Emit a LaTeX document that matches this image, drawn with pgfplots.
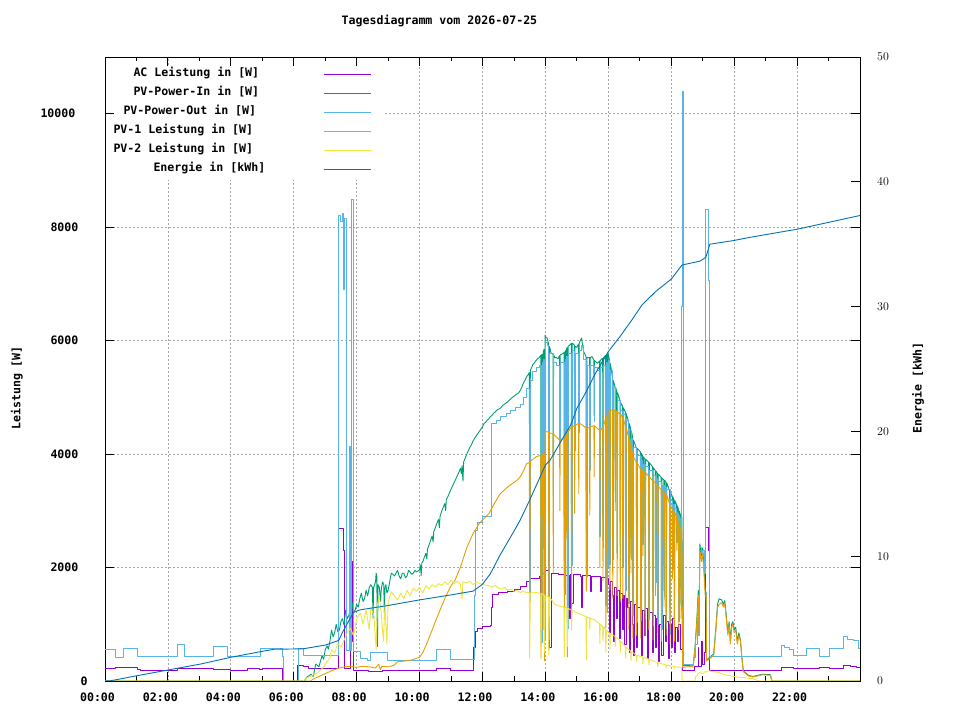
\documentclass[border=0pt]{standalone}
\usepackage{pgfplots}
\pgfplotsset{compat=1.18}
\usepackage{fontspec}
\newfontfamily\gpf{DejaVu Sans Mono}
\newcommand{\gp}{\gpf\bfseries\fontsize{11.6bp}{13bp}\selectfont}
\definecolor{cAC}{HTML}{9400D3}
\definecolor{cIn}{HTML}{009E73}
\definecolor{cOut}{HTML}{56B4E9}
\definecolor{cPa}{HTML}{E69F00}
\definecolor{cPb}{HTML}{F0E442}
\definecolor{cE}{HTML}{0072B2}
\definecolor{cGrid}{RGB}{165,165,168}
\pgfplotsset{
  gpbase/.style={
    at={(105bp,39bp)}, anchor=south west,
    scale only axis, width=755bp, height=624bp,
    xmin=0, xmax=24,
    tick align=inside,
    major tick length=9bp, minor tick length=4.5bp,
    tick style={black, line width=0.9bp},
    axis line style={line width=0.9bp},
    every axis plot/.append style={line width=0.9bp, line join=bevel},
  }
}
\begin{document}
\begin{tikzpicture}
\useasboundingbox (0bp,0bp) rectangle (960bp,720bp);
\begin{axis}[gpbase,
  ymin=0, ymax=11000,
  scaled y ticks=false,
  xtick={0,2,...,22},
  xticklabels={00:00,02:00,04:00,06:00,08:00,10:00,12:00,14:00,16:00,18:00,20:00,22:00},
  minor xtick={1,3,...,23},
  ytick={0,2000,4000,6000,8000,10000},
  yticklabels={\makebox[10bp][l]{0},\makebox[40bp][l]{2000},\makebox[40bp][l]{4000},\makebox[40bp][l]{6000},\makebox[40bp][l]{8000},\makebox[50bp][l]{10000}},
  xtick pos=both, ytick pos=both,
  xticklabel pos=bottom, yticklabel pos=left,
  xticklabel style={font=\gp, anchor=center, inner sep=0pt, yshift=-16.7bp, xshift=-7.5bp},
  yticklabel style={font=\gp, anchor=east, inner sep=0pt, xshift=-14.3bp},
  grid=major,
  major grid style={cGrid, line width=0.8bp, dash pattern=on 2bp off 2bp},
  title={Tagesdiagramm vom 2026-07-25},
  title style={at={(0.443,1.048)}, anchor=center, font=\gp, inner sep=0pt},
  ylabel={Leistung [W]},
  ylabel style={at={(-0.1166,0.4696)}, anchor=center, font=\gp, inner sep=0pt},
  legend style={at={(0.011,0.9856)}, anchor=north west, draw=none, fill=white,
    inner sep=0pt, row sep=0pt, column sep=0pt, font=\gp,
    nodes={inner sep=0pt, text height=10.25bp, text depth=8.75bp}},
  legend cell align=right,
  legend plot pos=right,
  legend image code/.code={\draw[draw=none] (0bp,0bp) -- (69.7bp,0bp); \draw[#1, line width=1bp] (10.7bp,1.2bp) -- (57.7bp,1.2bp);},
]
% AC Leistung
\addplot[const plot, cAC] table[x=t,y=w] {
t w
0.00 223
0.34 235
1.03 206
1.13 188
2.30 223
3.46 206
3.99 188
4.52 223
4.90 206
5.00 223
5.63 0
6.13 282
6.30 253
6.48 223
7.43 2690
7.59 2300
7.62 220
7.80 2300
7.82 800
7.84 2100
7.86 700
7.88 1900
7.90 194
8.38 170
8.81 194
10.55 223
10.97 188
11.72 600
11.77 870
11.85 930
12.00 960
12.25 980
12.30 1300
12.33 1520
12.50 1560
12.80 1580
13.00 1620
13.20 1660
13.40 1760
13.52 1810
13.80 1850
13.85 1500
13.88 1900
14.00 1940
14.12 600
14.20 1900
14.40 1870
14.60 1860
14.76 1100
14.80 1880
14.84 1360
14.88 1870
15.10 1850
15.15 1300
15.18 1860
15.42 1580
15.46 1850
15.70 1840
15.74 1580
15.78 1830
15.95 1800
16.00 1700
16.04 800
16.08 1750
16.12 1500
16.16 700
16.20 1650
16.26 1100
16.30 1600
16.34 750
16.38 1550
16.44 900
16.48 1500
16.52 650
16.56 1450
16.62 1300
16.66 500
16.70 1400
16.76 1000
16.80 450
16.84 1350
16.90 600
16.94 1300
17.04 450
17.08 1250
17.14 800
17.18 1280
17.24 400
17.28 1200
17.40 500
17.44 1150
17.50 600
17.54 1100
17.60 350
17.64 1000
17.70 450
17.74 1150
17.80 700
17.84 1050
17.90 400
17.94 1000
18.00 600
18.04 1100
18.10 500
18.14 950
18.20 700
18.24 1000
18.30 550
18.35 180
18.75 250
18.85 600
18.88 250
18.95 700
19.00 300
19.05 500
19.10 2700
19.18 2300
19.21 194
21.51 240
21.88 215
22.31 225
22.72 240
23.04 225
23.46 280
23.70 265
23.89 240
24.00 240
};
\addlegendentry{\makebox[180bp][l]{AC Leistung in [W]}}
% PV-Power-In
\addplot[sharp plot, cIn] table[x=t,y=w] {
t w
0.00 0
6.35 0
6.40 60
6.55 120
6.62 80
6.70 300
6.80 250
6.90 450
6.95 380
7.00 550
7.06 620
7.10 560
7.15 700
7.20 900
7.25 780
7.30 850
7.35 1000
7.40 870
7.45 900
7.50 1050
7.55 1100
7.60 980
7.65 1250
7.70 1100
7.75 1150
7.80 1300
7.85 1400
7.90 1200
7.95 1250
8.00 1350
8.05 1300
8.10 1450
8.15 1550
8.20 1400
8.25 1450
8.30 1600
8.35 1500
8.40 1650
8.45 1700
8.50 1650
8.52 1100
8.54 1650
8.60 1750
8.62 1900
8.64 1850
8.66 600
8.68 1700
8.72 1650
8.76 1400
8.78 1600
8.82 1750
8.86 1700
8.88 1200
8.90 1650
8.93 1700
8.96 1550
9.00 1600
9.05 1750
9.10 1900
9.15 1880
9.20 1850
9.25 1900
9.30 1950
9.35 1850
9.40 1800
9.45 1900
9.50 1900
9.55 1820
9.60 1850
9.65 1950
9.70 1920
9.75 1880
9.80 1900
9.85 1950
9.90 1920
9.95 1940
10.00 1960
10.03 2050
10.05 1850
10.07 2080
10.10 2100
10.15 2180
10.20 2250
10.23 2150
10.25 2320
10.30 2400
10.35 2480
10.40 2560
10.43 2450
10.45 2630
10.50 2700
10.55 2780
10.60 2850
10.63 2700
10.65 2900
10.70 2990
10.75 3060
10.80 3130
10.83 3000
10.85 3200
10.90 3250
10.95 3320
11.00 3380
11.05 3440
11.10 3500
11.15 3560
11.20 3620
11.25 3680
11.30 3750
11.33 3650
11.35 3800
11.38 3520
11.40 3860
11.45 3930
11.50 4000
11.55 4060
11.60 4120
11.65 4170
11.70 4230
11.75 4280
11.80 4320
11.85 4360
11.90 4400
11.95 4440
12.00 4480
12.05 4540
12.10 4560
12.15 4600
12.20 4620
12.25 4660
12.30 4680
12.35 4720
12.40 4740
12.45 4770
12.50 4790
12.55 4800
12.60 4830
12.65 4860
12.70 4880
12.75 4900
12.80 4920
12.85 4950
12.90 4970
12.95 5000
13.00 5020
13.05 5040
13.10 5060
13.15 5080
13.20 5120
13.25 5180
13.30 5250
13.35 5300
13.40 5360
13.45 5400
13.49 5440
13.50 1500
13.52 5480
13.56 5520
13.60 5580
13.65 5610
13.70 5650
13.75 5680
13.80 5700
13.85 5740
13.86 780
13.88 5750
13.91 5760
13.92 2440
13.93 5800
13.96 5850
13.97 850
13.99 6100
14.02 6050
14.05 6050
14.10 5950
14.11 1000
14.13 5900
14.18 5780
14.24 5760
14.25 3280
14.26 5750
14.30 5700
14.35 5700
14.40 5680
14.45 5740
14.46 4320
14.47 5750
14.52 5760
14.59 5790
14.60 1620
14.62 5800
14.645 5830
14.655 3790
14.665 5850
14.69 5880
14.70 1020
14.72 5900
14.77 5920
14.82 5950
14.83 2130
14.85 5960
14.92 5920
14.93 4170
14.94 5900
15.00 5880
15.05 5940
15.06 4490
15.07 5950
15.11 6000
15.15 6050
15.18 5920
15.22 5800
15.29 5720
15.30 1950
15.32 5700
15.40 5700
15.41 3820
15.42 5700
15.48 5720
15.54 5660
15.55 4680
15.56 5650
15.65 5600
15.72 5640
15.73 2640
15.74 5650
15.82 5690
15.83 2460
15.85 5700
15.91 5740
15.92 1430
15.94 5750
15.96 5760
15.97 2080
15.99 5780
16.04 5650
16.05 2150
16.065 5600
16.13 5350
16.14 2250
16.155 5300
16.21 5200
16.22 3600
16.235 5170
16.27 5100
16.28 2260
16.295 5080
16.37 4950
16.38 1900
16.395 4900
16.45 4850
16.46 2100
16.475 4820
16.54 4740
16.55 1700
16.565 4720
16.64 4580
16.65 1460
16.665 4540
16.71 4450
16.72 2250
16.735 4400
16.77 4300
16.78 1250
16.795 4250
16.89 4110
16.90 1130
16.915 4100
17.02 4040
17.03 1170
17.045 4020
17.09 3960
17.10 2500
17.115 3950
17.16 3920
17.17 1200
17.185 3910
17.28 3860
17.29 1180
17.305 3850
17.41 3770
17.42 1080
17.435 3760
17.49 3710
17.50 1840
17.515 3700
17.56 3660
17.57 1100
17.585 3650
17.68 3590
17.69 1000
17.705 3580
17.76 3550
17.77 1590
17.785 3540
17.83 3510
17.84 1030
17.855 3500
17.95 3350
17.96 915
17.975 3320
18.03 3260
18.04 2060
18.055 3250
18.09 3190
18.10 920
18.115 3180
18.17 3110
18.18 2550
18.195 3090
18.23 3020
18.24 1145
18.255 3000
18.30 2910
18.31 1340
18.325 2900
18.34 2880
18.36 270
18.70 280
18.76 620
18.82 1150
18.86 1600
18.88 850
18.91 2420
18.96 2200
19.00 2350
19.04 2000
19.08 1600
19.11 1550
19.12 370
19.35 480
19.42 950
19.47 1350
19.52 1450
19.60 1430
19.66 1350
19.70 1420
19.75 1150
19.80 850
19.84 1050
19.88 700
19.92 1000
19.96 1050
20.00 900
20.05 950
20.10 700
20.15 850
20.20 720
20.24 450
20.29 180
20.45 100
20.60 80
20.90 120
21.15 110
21.20 0
24.00 0
};
\addlegendentry{\makebox[180bp][l]{PV-Power-In in [W]}}
% PV-Power-Out
\addplot[const plot, cOut] table[x=t,y=w] {
t w
0.00 564
0.34 417
0.60 582
1.03 435
2.30 652
2.51 435
3.46 617
3.88 435
4.94 582
5.63 435
5.66 0
6.16 582
6.30 450
7.43 8200
7.50 8100
7.55 8250
7.58 6900
7.60 8150
7.66 546
7.78 4130
7.80 546
7.84 8490
7.90 516
8.12 400
8.33 370
8.44 500
8.97 370
10.55 558
10.97 384
11.75 1500
11.79 2660
11.85 2800
12.00 2900
12.30 4540
12.45 4600
12.56 4660
12.75 4720
12.88 4775
13.05 4830
13.20 4880
13.30 5000
13.40 5150
13.50 1400
13.53 5300
13.60 5450
13.70 5520
13.80 5570
13.86 680
13.89 5620
13.92 2340
13.94 5670
13.97 750
13.99 5970
14.05 5920
14.11 900
14.14 5770
14.25 3180
14.27 5620
14.35 5570
14.46 4220
14.48 5620
14.60 1520
14.63 5670
14.655 3690
14.67 5720
14.70 920
14.73 5770
14.83 2030
14.86 5830
14.93 4070
14.95 5770
15.06 4390
15.08 5820
15.15 5920
15.22 5670
15.30 1850
15.33 5570
15.41 3720
15.43 5570
15.55 4580
15.57 5520
15.65 5470
15.73 2540
15.75 5520
15.83 2360
15.86 5570
15.92 1330
15.95 5620
15.97 1980
16.00 5650
16.05 2050
16.065 5470
16.14 2150
16.155 5170
16.22 3500
16.235 5040
16.28 2160
16.295 4950
16.38 1800
16.395 4770
16.46 2000
16.475 4690
16.55 1600
16.565 4590
16.65 1360
16.665 4410
16.72 2150
16.735 4270
16.78 1150
16.795 4120
16.90 1030
16.915 3970
17.03 1070
17.045 3890
17.10 2400
17.115 3820
17.17 1100
17.185 3780
17.29 1080
17.305 3720
17.42 980
17.435 3630
17.50 1740
17.515 3570
17.57 1000
17.585 3520
17.69 900
17.705 3450
17.77 1490
17.785 3410
17.84 930
17.855 3370
17.96 815
17.975 3190
18.04 1960
18.055 3120
18.10 820
18.115 3050
18.18 2450
18.195 2960
18.24 1045
18.255 2870
18.31 1240
18.325 2770
18.33 6600
18.35 10390
18.38 300
18.70 420
18.76 650
18.82 1100
18.86 1500
18.88 800
18.91 2360
18.96 2250
19.00 2300
19.04 1950
19.07 1895
19.10 8320
19.19 7060
19.22 430
21.51 635
21.60 600
21.75 560
21.88 458
22.31 565
22.72 430
23.04 580
23.46 790
23.60 740
23.80 710
23.94 565
24.00 565
};
\addlegendentry{\makebox[190bp][l]{PV-Power-Out in [W]}}
% PV-1
\addplot[sharp plot, cPa] table[x=t,y=w] {
t w
0.00 0
6.55 0
6.60 30
6.80 80
7.00 130
7.20 180
7.40 220
7.60 250
7.80 260
8.00 240
8.20 260
8.40 250
8.60 230
8.70 300
8.75 200
8.80 260
9.00 250
9.20 280
9.30 340
9.50 350
9.75 370
10.00 420
10.10 500
10.20 620
10.30 760
10.40 900
10.50 1050
10.60 1180
10.70 1320
10.80 1450
10.90 1570
11.00 1680
11.13 1780
11.30 2010
11.50 2350
11.70 2600
11.90 2780
12.00 2840
12.20 2950
12.40 3150
12.56 3300
12.80 3420
13.10 3540
13.20 3600
13.30 3700
13.40 3830
13.49 3850
13.50 1070
13.52 3870
13.70 3950
13.85 3980
13.86 400
13.88 3980
13.91 3990
13.92 900
13.93 4000
13.96 4000
13.97 350
13.99 4400
14.10 4390
14.11 550
14.13 4380
14.24 4350
14.25 1900
14.26 4350
14.45 4250
14.46 3000
14.47 4250
14.59 4280
14.60 1200
14.62 4300
14.645 4320
14.655 2500
14.665 4350
14.69 4380
14.70 420
14.72 4400
14.82 4470
14.83 1230
14.85 4480
14.92 4500
14.93 2950
14.94 4500
15.05 4540
15.06 3300
15.07 4550
15.20 4500
15.29 4460
15.30 1580
15.32 4450
15.40 4470
15.41 2920
15.42 4480
15.54 4500
15.55 3600
15.56 4500
15.72 4420
15.73 1990
15.74 4400
15.82 4480
15.83 1760
15.85 4500
15.91 4620
15.92 930
15.94 4650
15.96 4700
15.97 1200
15.99 4750
16.04 4760
16.05 1600
16.065 4770
16.13 4780
16.14 1450
16.155 4780
16.21 4770
16.22 3000
16.235 4760
16.27 4750
16.28 1500
16.295 4740
16.37 4710
16.38 1400
16.395 4700
16.45 4650
16.46 1450
16.475 4620
16.54 4500
16.55 1300
16.565 4480
16.64 4300
16.65 900
16.665 4250
16.71 4130
16.72 1900
16.735 4100
16.77 4000
16.78 750
16.795 3950
16.89 3860
16.90 800
16.915 3850
17.02 3740
17.03 750
17.045 3720
17.09 3700
17.10 2200
17.115 3700
17.16 3680
17.17 800
17.185 3670
17.28 3610
17.29 900
17.305 3600
17.41 3530
17.42 720
17.435 3520
17.49 3490
17.50 1500
17.515 3480
17.56 3440
17.57 850
17.585 3430
17.68 3370
17.69 700
17.705 3360
17.76 3330
17.77 1300
17.785 3320
17.83 3290
17.84 800
17.855 3280
17.95 3120
17.96 650
17.975 3100
18.03 3030
18.04 1800
18.055 3020
18.09 2970
18.10 700
18.115 2960
18.17 2920
18.18 2300
18.195 2900
18.23 2750
18.24 900
18.255 2720
18.30 2660
18.31 1100
18.325 2650
18.34 2650
18.36 240
18.70 260
18.76 600
18.82 1100
18.86 1500
18.88 800
18.91 2300
18.96 2100
19.00 2250
19.04 1900
19.08 1500
19.11 1500
19.12 350
19.35 450
19.42 900
19.47 1300
19.52 1350
19.60 1380
19.66 1300
19.70 1380
19.75 1100
19.80 800
19.84 1000
19.88 650
19.92 950
19.96 1000
20.00 850
20.05 900
20.10 650
20.15 800
20.20 700
20.24 430
20.29 165
20.45 90
20.60 70
20.90 110
21.15 100
21.20 0
24.00 0
};
\addlegendentry{\makebox[200bp][l]{PV-1 Leistung in [W]}}
% PV-2
\addplot[sharp plot, cPb] table[x=t,y=w] {
t w
0.00 0
6.30 0
6.40 50
6.74 140
6.96 250
7.06 350
7.15 400
7.20 550
7.30 500
7.40 660
7.50 600
7.60 720
7.70 850
7.80 930
7.90 800
8.00 1100
8.12 1200
8.20 1000
8.30 1250
8.40 900
8.45 1300
8.55 1150
8.62 550
8.66 1350
8.72 1490
8.78 1200
8.85 700
8.90 1350
8.96 650
9.00 1400
9.10 1570
9.20 1500
9.30 1430
9.40 1550
9.50 1450
9.60 1600
9.70 1500
9.80 1640
9.90 1580
10.00 1650
10.10 1550
10.20 1680
10.30 1620
10.40 1700
10.50 1650
10.60 1720
10.70 1680
10.80 1750
10.90 1700
11.00 1780
11.10 1720
11.20 1760
11.30 1700
11.35 1450
11.38 1750
11.50 1730
11.60 1760
11.70 1700
11.80 1740
11.90 1720
12.00 1700
12.20 1680
12.30 1650
12.40 1690
12.50 1640
12.60 1620
12.70 1650
12.80 1600
12.90 1620
13.00 1580
13.10 1600
13.20 1560
13.30 1580
13.40 1560
13.49 1555
13.50 400
13.52 1550
13.70 1560
13.85 1545
13.86 380
13.88 1540
13.96 1520
13.97 500
13.99 1500
14.10 1485
14.11 450
14.13 1480
14.30 1350
14.45 1320
14.59 1300
14.60 420
14.62 1300
14.69 1285
14.70 600
14.72 1280
14.82 1255
14.83 900
14.85 1250
15.00 1200
15.15 1170
15.29 1135
15.30 370
15.32 1130
15.40 1115
15.41 900
15.42 1110
15.55 1080
15.72 1010
15.73 650
15.74 1000
15.82 965
15.83 700
15.85 960
15.91 910
15.92 500
15.94 900
16.04 845
16.05 550
16.065 840
16.21 785
16.22 600
16.235 780
16.37 705
16.38 500
16.395 700
16.54 605
16.55 400
16.565 600
16.71 525
16.72 350
16.735 520
16.89 455
16.90 330
16.915 450
17.09 425
17.10 300
17.115 420
17.28 385
17.29 280
17.305 380
17.56 325
17.57 250
17.585 320
17.83 285
17.84 230
17.855 280
18.09 255
18.10 220
18.115 250
18.33 240
18.35 0
18.75 0
18.78 80
18.90 150
19.00 130
19.10 170
19.20 180
19.30 165
19.50 150
19.70 110
19.90 90
20.10 70
20.30 60
20.60 40
20.80 0
24.00 0
};
\addlegendentry{\makebox[200bp][l]{PV-2 Leistung in [W]}}
\addlegendimage{cE, line width=0.9bp}
\addlegendentry{\makebox[160bp][l]{Energie in [kWh]}}
\end{axis}
\begin{axis}[gpbase,
  ymin=0, ymax=50,
  axis x line=none, axis y line*=right,
  ytick={0,10,20,30,40,50},
  yticklabel style={font=\gp, anchor=west, inner sep=0pt, xshift=17bp},
  ylabel={Energie [kWh]},
  ylabel style={at={(1.0768,0.4696)}, anchor=center, font=\gp, inner sep=0pt},
]
\addplot[sharp plot, cE] table[x=t,y=e] {
t e
0.00 0.0
0.18 0.02
1.03 0.43
2.00 0.88
3.04 1.36
4.00 1.90
4.94 2.35
5.37 2.54
6.30 2.58
7.00 2.88
7.43 3.25
7.55 3.9
7.70 4.6
7.90 5.5
8.10 5.7
9.00 6.05
10.00 6.5
11.00 6.9
11.70 7.2
12.00 7.75
12.25 8.6
12.56 10.1
13.00 12.0
13.20 12.9
13.50 14.5
14.00 17.3
14.15 17.7
14.47 19.1
14.80 20.5
15.00 21.85
15.30 23.2
15.60 24.7
16.00 26.4
16.37 27.6
16.74 28.9
17.06 30.1
17.50 31.2
18.00 32.2
18.33 33.3
18.38 33.35
18.92 33.65
19.10 33.95
19.19 34.7
19.23 35.0
20.00 35.3
20.50 35.55
22.00 36.2
24.00 37.3
};
\end{axis}
\end{tikzpicture}
\end{document}
